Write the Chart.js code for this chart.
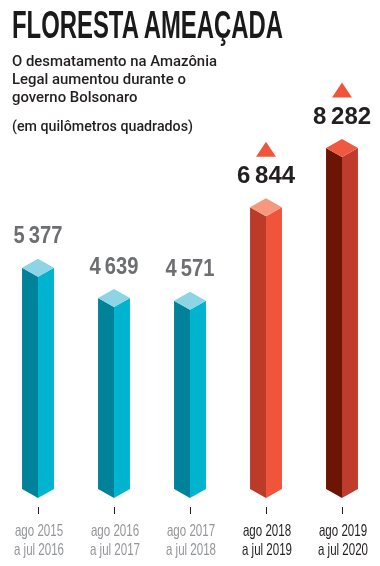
<!DOCTYPE html>
<html>
<head>
<meta charset="utf-8">
<script src="https://cdn.jsdelivr.net/npm/chart.js@4/dist/chart.umd.min.js"></script>
<style>
  html, body { margin: 0; padding: 0; background: #ffffff; }
  #wrap { position: relative; width: 380px; height: 566px; overflow: hidden; }
  #chartBox { position: absolute; left: 0; top: 0; width: 380px; height: 566px; }
  .txt { position: absolute; left: 12px; white-space: nowrap; color: #231f20; z-index: 2; transform-origin: 0 0; }
  #title { top: 5px; font-family: "Liberation Sans Narrow", "Liberation Sans", sans-serif; font-weight: bold; font-size: 39px; line-height: 39px; color: #1a1a1a; }
  #sub { top: 52px; font-family: Roboto, "Liberation Sans", sans-serif; font-weight: 500; font-size: 15px; line-height: 18px; }
  #unit { top: 117px; font-family: Roboto, "Liberation Sans", sans-serif; font-weight: 500; font-size: 15px; line-height: 18px; }
</style>
</head>
<body>
<div id="wrap">
  <div id="chartBox"><canvas id="c"></canvas></div>
  <div class="txt" id="title">FLORESTA AMEAÇADA</div>
  <div class="txt" id="sub">O desmatamento na Amazônia<br>Legal aumentou durante o<br>governo Bolsonaro</div>
  <div class="txt" id="unit">(em quilômetros quadrados)</div>
</div>
<script>
// ---- data ----
const categories = [
  ['ago 2015', 'a jul 2016'],
  ['ago 2016', 'a jul 2017'],
  ['ago 2017', 'a jul 2018'],
  ['ago 2018', 'a jul 2019'],
  ['ago 2019', 'a jul 2020']
];
const deforestationKm2 = [5377, 4639, 4571, 6844, 8282];
const bolsonaroPeriod = [false, false, false, true, true];

// ---- styles ----
const faceLeft  = ['#00839a', '#00839a', '#00839a', '#bb3a28', '#6b1502'];
const faceRight = ['#00b3cf', '#00b3cf', '#00b3cf', '#f0543b', '#bf3b2b'];
const faceTop   = ['#8dd4e5', '#8dd4e5', '#8dd4e5', '#f5987d', '#ef5940'];
const arrowColor = '#f0543b';

// fit text block widths to the reference
function fitWidth(id, target) {
  const t = document.getElementById(id);
  const w = t.getBoundingClientRect().width;
  t.style.transform = 'scaleX(' + (target / w) + ')';
}
fitWidth('title', 271);
fitWidth('sub', 205);
fitWidth('unit', 181);

function fmt(v) {
  return String(v).replace(/\B(?=(\d{3})+(?!\d))/g, '\u2009');
}

const prismPlugin = {
  id: 'prism',
  afterDatasetsDraw(chart) {
    const ctx = chart.ctx;
    const meta = chart.getDatasetMeta(0);
    const data = chart.data.datasets[0].data;
    meta.data.forEach((el, i) => {
      const p = el.getProps(['x', 'y', 'base', 'width'], true);
      const x = p.x, y = p.y, b = p.base, h = p.width / 2, d = 9;
      ctx.save();
      ctx.fillStyle = faceLeft[i];
      ctx.beginPath();
      ctx.moveTo(x - h, y - d); ctx.lineTo(x, y); ctx.lineTo(x, b); ctx.lineTo(x - h, b - d);
      ctx.closePath(); ctx.fill();
      ctx.fillStyle = faceRight[i];
      ctx.beginPath();
      ctx.moveTo(x, y); ctx.lineTo(x + h, y - d); ctx.lineTo(x + h, b - d); ctx.lineTo(x, b);
      ctx.closePath(); ctx.fill();
      ctx.fillStyle = faceTop[i];
      ctx.beginPath();
      ctx.moveTo(x, y); ctx.lineTo(x - h, y - d); ctx.lineTo(x, y - 2 * d); ctx.lineTo(x + h, y - d);
      ctx.closePath(); ctx.fill();

      // value label
      const ly = y - 40;
      ctx.font = 'bold 24px "Liberation Sans", Arial, sans-serif';
      ctx.textAlign = 'center';
      ctx.textBaseline = 'middle';
      ctx.fillStyle = bolsonaroPeriod[i] ? '#231f20' : '#6d6e71';
      ctx.save();
      ctx.translate(x, ly);
      ctx.scale(bolsonaroPeriod[i] ? 1 : 0.84, 1);
      ctx.fillText(fmt(data[i]), 0, 0);
      ctx.restore();

      // rising arrow
      if (i > 0 && data[i] > data[i - 1]) {
        const ty = ly - 27;
        ctx.fillStyle = arrowColor;
        ctx.beginPath();
        ctx.moveTo(x - 10, ty + 7.5);
        ctx.lineTo(x, ty - 7.5);
        ctx.lineTo(x + 10, ty + 7.5);
        ctx.closePath(); ctx.fill();
      }
      ctx.restore();
    });
  },
  afterDraw(chart) {
    // condensed category labels placed at the x scale's tick positions
    const ctx = chart.ctx;
    const xs = chart.scales.x;
    const bottom = chart.chartArea.bottom;
    ctx.save();
    ctx.font = '16.5px "Liberation Sans", Arial, sans-serif';
    ctx.textAlign = 'center';
    ctx.textBaseline = 'middle';
    chart.data.labels.forEach((lab, i) => {
      const x = xs.getPixelForTick(i) + 1;
      ctx.fillStyle = bolsonaroPeriod[i] ? '#231f20' : '#939598';
      lab.forEach((line, j) => {
        ctx.save();
        ctx.translate(x, bottom + 24 + j * 19);
        ctx.scale(0.7, 1);
        ctx.fillText(line, 0, 0);
        ctx.restore();
      });
    });
    ctx.restore();
  }
};

new Chart(document.getElementById('c'), {
  type: 'bar',
  data: {
    labels: categories,
    datasets: [{
      data: deforestationKm2,
      backgroundColor: 'rgba(0,0,0,0)',
      borderWidth: 0,
      categoryPercentage: 1,
      barPercentage: 0.42
    }]
  },
  options: {
    responsive: true,
    maintainAspectRatio: false,
    animation: false,
    events: [],
    layout: { padding: { left: 0, right: 0, top: 0, bottom: 52 } },
    plugins: { legend: { display: false }, tooltip: { enabled: false }, title: { display: false } },
    scales: {
      y: { display: false, min: -220, max: 12100 },
      x: {
        offset: true,
        border: { display: false },
        grid: { display: true, drawOnChartArea: false, drawTicks: true, tickLength: 7, tickColor: '#231f20', tickWidth: 1, offset: false },
        ticks: { display: false, autoSkip: false, maxRotation: 0 }
      }
    }
  },
  plugins: [prismPlugin]
});
</script>
</body>
</html>
